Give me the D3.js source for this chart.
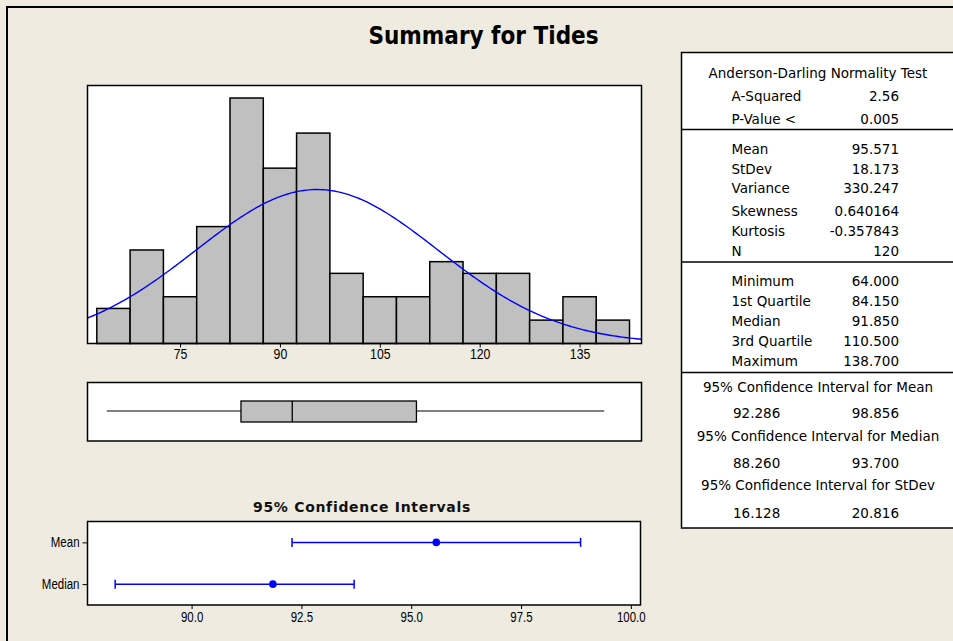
<!DOCTYPE html>
<html>
<head>
<meta charset="utf-8">
<script src="https://cdn.jsdelivr.net/npm/d3@7"></script>
<style>
html,body{margin:0;padding:0;background:#efebe1;}
svg{display:block;}
.narrow{font-family:"Liberation Sans",Arial,sans-serif;}
.tbl{font-family:"DejaVu Sans",Tahoma,sans-serif;}
.ttl{font-family:"DejaVu Sans Condensed","DejaVu Sans",Tahoma,sans-serif;font-stretch:condensed;}
</style>
</head>
<body>
<svg id="chart" width="953" height="641"></svg>
<script>
// ---------------- data ----------------
const chartTitle = "Summary for Tides";
const binMids = [65, 70, 75, 80, 85, 90, 95, 100, 105, 110, 115, 120, 125, 130, 135, 140];
const binCounts = [3, 8, 4, 10, 21, 15, 18, 6, 4, 4, 7, 6, 6, 2, 4, 2];
const binWidth = 5;
const histTicks = [75, 90, 105, 120, 135];
const sampleMean = 95.571;
const sampleStDev = 18.173;
const sampleN = 120;
const boxNames = ["Minimum", "1st Quartile", "Median", "3rd Quartile", "Maximum"];
const boxValues = [64.000, 84.150, 91.850, 110.500, 138.700];
const ciTitle = "95% Confidence Intervals";
const ciLabels = ["Mean", "Median"];
const ciCenters = [95.571, 91.850];
const ciLower = [92.286, 88.260];
const ciUpper = [98.856, 93.700];
const ciTicks = [90.0, 92.5, 95.0, 97.5, 100.0];
const adHeader = "Anderson-Darling Normality Test";
const adLabels = ["A-Squared", "P-Value <"];
const adValues = ["2.56", "0.005"];
const momentLabels = ["Mean", "StDev", "Variance", "Skewness", "Kurtosis", "N"];
const momentValues = ["95.571", "18.173", "330.247", "0.640164", "-0.357843", "120"];
const quantLabels = boxNames;
const quantValues = ["64.000", "84.150", "91.850", "110.500", "138.700"];
const ciTableHeaders = ["95% Confidence Interval for Mean", "95% Confidence Interval for Median", "95% Confidence Interval for StDev"];
const ciTableLow = ["92.286", "88.260", "16.128"];
const ciTableHigh = ["98.856", "93.700", "20.816"];

// ---------------- drawing ----------------
const svg = d3.select("#chart");
const BG = "#efebe1";
const NARROW = 0.82;
svg.append("rect").attr("x", 0).attr("y", 0).attr("width", 953).attr("height", 641).attr("fill", BG);
svg.append("rect").attr("x", 7).attr("y", 7).attr("width", 1000).attr("height", 700)
  .attr("fill", "none").attr("stroke", "#000").attr("stroke-width", 2);

svg.append("text").attr("x", 483.5).attr("y", 43.5).attr("text-anchor", "middle")
  .attr("class", "ttl").attr("font-weight", "bold").attr("font-size", 24)
  .attr("fill", "#000").text(chartTitle);

function narrowText(sel, size) {
  sel.attr("class", "narrow").attr("font-size", size).attr("fill", "#000")
    .each(function () {
      const t = d3.select(this);
      const x = +t.attr("x") || 0;
      t.attr("x", x / NARROW).attr("transform", `scale(${NARROW},1)`);
    });
}

// ---- Histogram ----
const hx0 = 87.5, hx1 = 641.5, hy0 = 85.5, hy1 = 343.5;
const xH = d3.scaleLinear().domain([61.1, 144.3]).range([hx0, hx1]);
const yH = d3.scaleLinear().domain([0, 22.07]).range([hy1, hy0]);
svg.append("rect").attr("x", hx0).attr("y", hy0).attr("width", hx1 - hx0).attr("height", hy1 - hy0)
  .attr("fill", "#fff");
svg.append("g").selectAll("rect").data(binMids).join("rect")
  .attr("x", d => xH(d - binWidth / 2))
  .attr("width", d => xH(d + binWidth / 2) - xH(d - binWidth / 2))
  .attr("y", (d, i) => yH(binCounts[i]))
  .attr("height", (d, i) => yH(0) - yH(binCounts[i]))
  .attr("fill", "#c0c0c0").attr("stroke", "#000").attr("stroke-width", 1.5);
const normPts = d3.range(0, 201).map(i => {
  const x = 61.1 + (144.3 - 61.1) * i / 200;
  const z = (x - sampleMean) / sampleStDev;
  const y = sampleN * binWidth * Math.exp(-0.5 * z * z) / (sampleStDev * Math.sqrt(2 * Math.PI));
  return [x, y];
});
svg.append("path").datum(normPts)
  .attr("d", d3.line().x(d => xH(d[0])).y(d => yH(d[1])))
  .attr("fill", "none").attr("stroke", "#0000ff").attr("stroke-width", 1.4);
svg.append("rect").attr("x", hx0).attr("y", hy0).attr("width", hx1 - hx0).attr("height", hy1 - hy0)
  .attr("fill", "none").attr("stroke", "#000").attr("stroke-width", 1.5);
const hAxis = svg.append("g").attr("transform", `translate(0,${hy1})`)
  .call(d3.axisBottom(xH).tickValues(histTicks).tickSize(4).tickPadding(1).tickFormat(d3.format("d")));
hAxis.select(".domain").remove();
hAxis.selectAll("line").attr("stroke", "#000");
narrowText(hAxis.selectAll("text"), 15);

// ---- Box plot ----
const bx0 = 87.5, bx1 = 641.5, by0 = 382.5, by1 = 441;
svg.append("rect").attr("x", bx0).attr("y", by0).attr("width", bx1 - bx0).attr("height", by1 - by0)
  .attr("fill", "#fff").attr("stroke", "#000").attr("stroke-width", 1.5);
const yBoxMid = 411, boxTop = 401, boxBot = 422;
const bg = svg.append("g");
bg.append("line").attr("x1", xH(boxValues[0])).attr("x2", xH(boxValues[1]))
  .attr("y1", yBoxMid).attr("y2", yBoxMid).attr("stroke", "#000").attr("stroke-width", 1);
bg.append("line").attr("x1", xH(boxValues[3])).attr("x2", xH(boxValues[4]))
  .attr("y1", yBoxMid).attr("y2", yBoxMid).attr("stroke", "#000").attr("stroke-width", 1);
bg.append("rect").attr("x", xH(boxValues[1])).attr("y", boxTop)
  .attr("width", xH(boxValues[3]) - xH(boxValues[1])).attr("height", boxBot - boxTop)
  .attr("fill", "#c0c0c0").attr("stroke", "#000").attr("stroke-width", 1.3);
bg.append("line").attr("x1", xH(boxValues[2])).attr("x2", xH(boxValues[2]))
  .attr("y1", boxTop).attr("y2", boxBot).attr("stroke", "#000").attr("stroke-width", 1.3);

// ---- CI plot ----
const cx0 = 87.5, cx1 = 640.5, cy0 = 521.5, cy1 = 605;
const xC = d3.scaleLinear().domain([87.63, 100.22]).range([cx0, cx1]);
const yC = d3.scalePoint().domain(ciLabels).range([cy0, cy1]).padding(0.5);
svg.append("text").attr("x", 362).attr("y", 512).attr("text-anchor", "middle")
  .attr("font-family", "DejaVu Sans, sans-serif").attr("font-weight", "bold").attr("font-size", 14)
  .attr("letter-spacing", 0.7).attr("fill", "#111").text(ciTitle);
svg.append("rect").attr("x", cx0).attr("y", cy0).attr("width", cx1 - cx0).attr("height", cy1 - cy0)
  .attr("fill", "#fff").attr("stroke", "#000").attr("stroke-width", 1.5);
const cg = svg.append("g");
ciLabels.forEach((lab, i) => {
  const y = yC(lab);
  cg.append("line").attr("x1", xC(ciLower[i])).attr("x2", xC(ciUpper[i])).attr("y1", y).attr("y2", y)
    .attr("stroke", "#0000ff").attr("stroke-width", 1.5);
  [ciLower[i], ciUpper[i]].forEach(v => {
    cg.append("line").attr("x1", xC(v)).attr("x2", xC(v)).attr("y1", y - 4.5).attr("y2", y + 4.5)
      .attr("stroke", "#0000ff").attr("stroke-width", 1.5);
  });
  cg.append("circle").attr("cx", xC(ciCenters[i])).attr("cy", y).attr("r", 3.8).attr("fill", "#0000ff");
});
const cAxisX = svg.append("g").attr("transform", `translate(0,${cy1})`)
  .call(d3.axisBottom(xC).tickValues(ciTicks).tickSize(4).tickPadding(3).tickFormat(d3.format(".1f")));
cAxisX.select(".domain").remove();
cAxisX.selectAll("line").attr("stroke", "#000");
narrowText(cAxisX.selectAll("text"), 14);
const cAxisY = svg.append("g").attr("transform", `translate(${cx0},0)`)
  .call(d3.axisLeft(yC).tickSize(5).tickPadding(3));
cAxisY.select(".domain").remove();
cAxisY.selectAll("line").attr("stroke", "#000");
narrowText(cAxisY.selectAll("text"), 14);

// ---- Stats table ----
const tx0 = 681.5, ty0 = 52.5, ty1 = 528;
const tg = svg.append("g").attr("class", "tbl").attr("font-size", 13.5).attr("fill", "#000");
tg.append("rect").attr("x", tx0).attr("y", ty0).attr("width", 300).attr("height", ty1 - ty0)
  .attr("fill", "#fff").attr("stroke", "#000").attr("stroke-width", 1.5);
[129.5, 262, 372.5].forEach(y => {
  tg.append("line").attr("x1", tx0).attr("x2", 960).attr("y1", y).attr("y2", y)
    .attr("stroke", "#000").attr("stroke-width", 1.5);
});
const labX = 731.5, valX = 899, midX = 818;
function row(lab, val, y) {
  tg.append("text").attr("x", labX).attr("y", y).attr("dy", "0.35em").text(lab);
  tg.append("text").attr("x", valX).attr("y", y).attr("dy", "0.35em").attr("text-anchor", "end").text(val);
}
tg.append("text").attr("x", midX).attr("y", 73).attr("dy", "0.35em").attr("text-anchor", "middle").text(adHeader);
const adY = [96.5, 119];
adLabels.forEach((l, i) => row(l, adValues[i], adY[i]));
const momY = [149, 169, 188.5, 211, 231, 251.5];
momentLabels.forEach((l, i) => row(l, momentValues[i], momY[i]));
const quantY = [281, 301, 321.5, 341.5, 361.5];
quantLabels.forEach((l, i) => row(l, quantValues[i], quantY[i]));
const ciHeadY = [387, 436.5, 485], ciValY = [413.5, 463, 513];
ciTableHeaders.forEach((h, i) => {
  tg.append("text").attr("x", midX).attr("y", ciHeadY[i]).attr("dy", "0.35em").attr("text-anchor", "middle").text(h);
  tg.append("text").attr("x", 733).attr("y", ciValY[i]).attr("dy", "0.35em").text(ciTableLow[i]);
  tg.append("text").attr("x", valX).attr("y", ciValY[i]).attr("dy", "0.35em").attr("text-anchor", "end").text(ciTableHigh[i]);
});
</script>
</body>
</html>
